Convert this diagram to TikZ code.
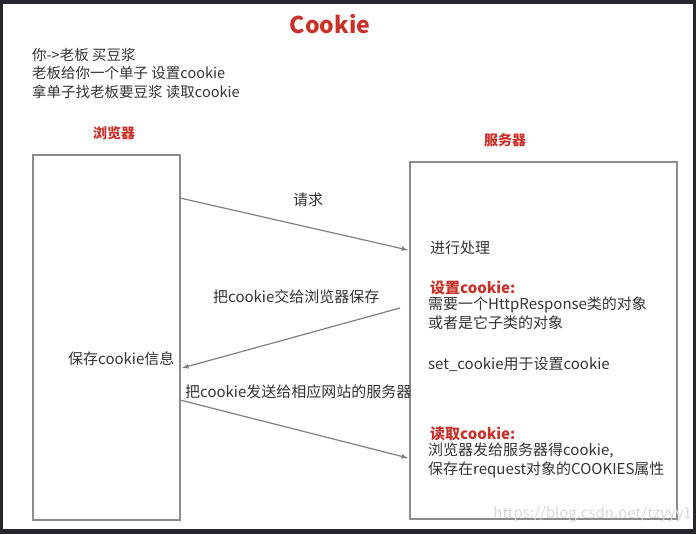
\documentclass[tikz,border=0pt]{standalone}
\usepackage{fontspec}
\setmainfont{Noto Sans CJK SC}
\definecolor{rd}{HTML}{C8322A}
\begin{document}
\begin{tikzpicture}[x=1pt,y=-1pt,
  txt/.style={anchor=west,inner sep=0pt,font=\fontsize{15}{19}\selectfont,text=black!80,align=left},
  red/.style={text=rd,font=\fontsize{14}{17}\selectfont\bfseries},
  box/.style={draw=black!45,line width=1.3pt},
  arr/.style={draw=black!50,line width=1.2pt,-latex}]
\fill[black!80!blue!20!black!85] (0,0) rectangle (696,534);
\fill[white] (3,4) rectangle (693,529);
\useasboundingbox (0,0) rectangle (696,534);
\node[red,font=\fontsize{23}{26}\selectfont\bfseries] (title) at (330,24) {Cookie};
\node[txt,align=left,anchor=north west,font=\fontsize{14.5}{18.5}\selectfont] (intro) at (32,48) {你->老板 买豆浆\\老板给你一个单子 设置cookie\\拿单子找老板要豆浆 读取cookie};
\node[red] (bl) at (114,133) {浏览器};
\node[red] (sl) at (505,140) {服务器};
\draw[box] (33,155) rectangle (180,520);
\draw[box] (410,162) rectangle (677,519);
\coordinate (b1) at (180,198); \coordinate (s1) at (408,250);
\coordinate (s2) at (400,308); \coordinate (b2) at (182,368);
\coordinate (b3) at (180,400); \coordinate (s3) at (408,458);
\draw[arr] (b1) -- (s1);
\draw[arr] (s2) -- (b2);
\draw[arr] (b3) -- (s3);
\node[txt] (q) at (293,200) {请求};
\node[txt] (t2) at (213,297) {把cookie交给浏览器保存};
\node[txt] (t3) at (185,392) {把cookie发送给相应网站的服务器};
\node[txt] (bs) at (68,359) {保存cookie信息};
\node[txt] (p) at (430,248) {进行处理};
\node[red,anchor=west,inner sep=0pt,font=\fontsize{15}{19}\selectfont\bfseries] (sh) at (430,288) {设置cookie:};
\node[txt,anchor=north west] (sb) at (428,297) {需要一个HttpResponse类的对象\\或者是它子类的对象};
\node[txt] (sc) at (428,364) {set\_cookie用于设置cookie};
\node[red,anchor=west,inner sep=0pt,font=\fontsize{15}{19}\selectfont\bfseries] (rh) at (430,434) {读取cookie:};
\node[txt,anchor=north west] (rb) at (428,443) {浏览器发给服务器得cookie,\\保存在request对象的COOKIES属性};
\node[anchor=east,inner sep=0pt,text=black!15,font=\fontsize{15}{16}\selectfont] (wm) at (692,514) {https://blog.csdn.net/tzyyy1};
\end{tikzpicture}
\end{document}
